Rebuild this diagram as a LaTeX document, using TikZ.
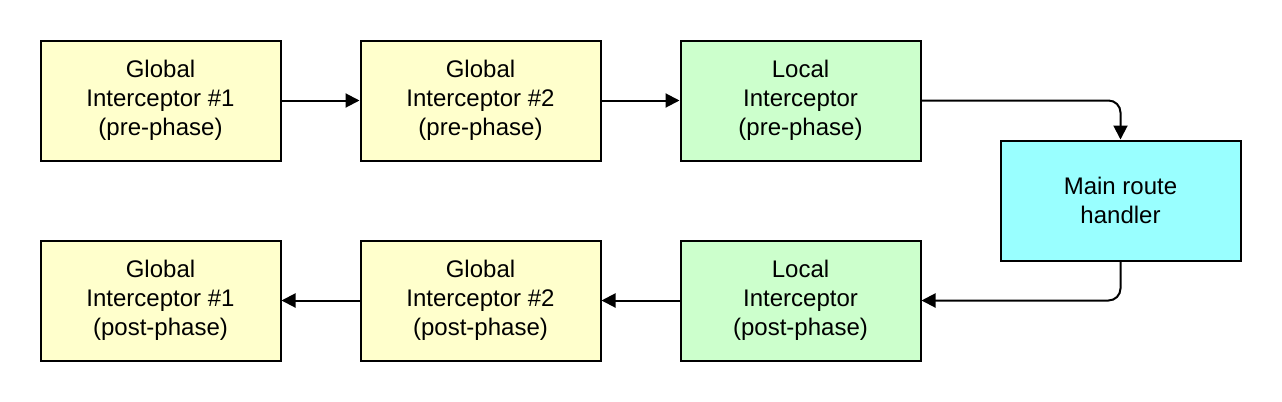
\documentclass[tikz,border=0pt]{standalone}
\usepackage{fontspec}
\setmainfont{Liberation Sans}
\usetikzlibrary{arrows.meta}
\definecolor{globalfill}{HTML}{FFFFCC}
\definecolor{localfill}{HTML}{CCFFCC}
\definecolor{mainfill}{HTML}{99FFFF}
\tikzset{
    stagebox/.style={draw, line width=1pt, minimum width=120pt, minimum height=60pt,
        align=center, inner sep=0pt, font=\fontsize{12}{14.5}\selectfont},
    flow/.style={line width=1pt, -{Triangle[length=7pt,width=7pt]}, rounded corners=6pt}
}
\begin{document}
\begin{tikzpicture}[x=0.5pt, y=-0.5pt]
    \useasboundingbox (0,0) rectangle (1282,402);
    \node[stagebox, fill=globalfill] (gpre1) at (160.5,100.5) {Global\\Interceptor \#1\\(pre-phase)};
    \node[stagebox, fill=globalfill] (gpre2) at (480.5,100.5) {Global\\Interceptor \#2\\(pre-phase)};
    \node[stagebox, fill=localfill] (lpre) at (800.5,100.5) {Local\\Interceptor\\(pre-phase)};
    \node[stagebox, fill=mainfill] (handler) at (1120.5,200.5) {Main route\\handler};
    \node[stagebox, fill=localfill] (lpost) at (800.5,300.5) {Local\\Interceptor\\(post-phase)};
    \node[stagebox, fill=globalfill] (gpost2) at (480.5,300.5) {Global\\Interceptor \#2\\(post-phase)};
    \node[stagebox, fill=globalfill] (gpost1) at (160.5,300.5) {Global\\Interceptor \#1\\(post-phase)};
    \draw[flow] (gpre1) -- (gpre2);
    \draw[flow] (gpre2) -- (lpre);
    \draw[flow] (lpre) -| (handler);
    \draw[flow] (handler) |- (lpost);
    \draw[flow] (lpost) -- (gpost2);
    \draw[flow] (gpost2) -- (gpost1);
\end{tikzpicture}
\end{document}
